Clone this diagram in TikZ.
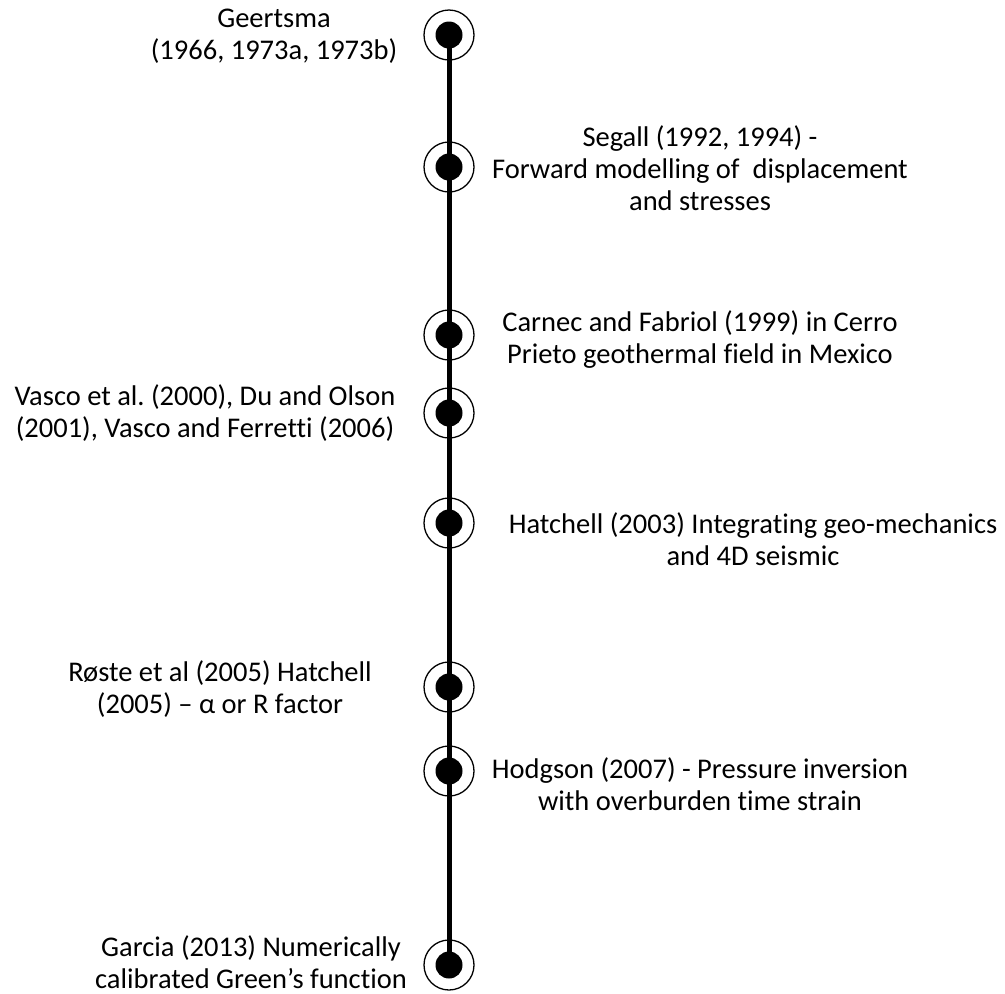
\documentclass[tikz,border=0pt]{standalone}
\usepackage{fontspec}
\setmainfont{Carlito}[Ligatures={NoCommon}]
\usetikzlibrary{positioning}

\tikzset{
  event/.style={circle, draw, line width=1.3pt, minimum size=50pt, inner sep=0pt},
  dot/.style={circle, fill=black, minimum size=27pt, inner sep=0pt},
  entry/.style={align=center, font=\fontsize{28.5pt}{32pt}\selectfont, inner sep=0pt}
}

\begin{document}
\frenchspacing
\begin{tikzpicture}[x=1pt, y=-1pt]
\useasboundingbox (0,0) rectangle (1005,994);
% Milestones along the time line
\foreach \name/\yy in {a/35, b/167, c/335, d/413, e/523, f/687, g/771, h/965} {
  \node[event] (\name) at (449,\yy) {};
}
% Main time line
\draw[line width=5pt] (a.center) -- (h.center);
% Dots on top of the line
\foreach \name in {a,b,c,d,e,f,g,h} {
  \node[dot] at (\name) {};
}
% Labels
\node[entry] (ta) at (274,36) {Geertsma\\(1966, 1973a, 1973b)};
\node[entry] (tb) at (700,168) {Segall (1992, 1994) -\\Forward modelling of\ \ displacement\\and stresses};
\node[entry] (tc) at (700,340) {Carnec and Fabriol (1999) in Cerro\\Prieto geothermal field in Mexico};
\node[entry] (td) at (205,413) {Vasco et al. (2000), Du and Olson\\(2001), Vasco and Ferretti (2006)};
\node[entry] (te) at (753,539) {Hatchell (2003) Integrating geo-mechanics\\and 4D seismic};
\node[entry] (tf) at (220,689) {Røste et al (2005) Hatchell\\(2005) – α or R factor};
\node[entry] (tg) at (700,784) {Hodgson (2007) - Pressure inversion\\with overburden time strain};
\node[entry] (th) at (251,962) {Garcia (2013) Numerically\\calibrated Green’s function};
\end{tikzpicture}
\end{document}
